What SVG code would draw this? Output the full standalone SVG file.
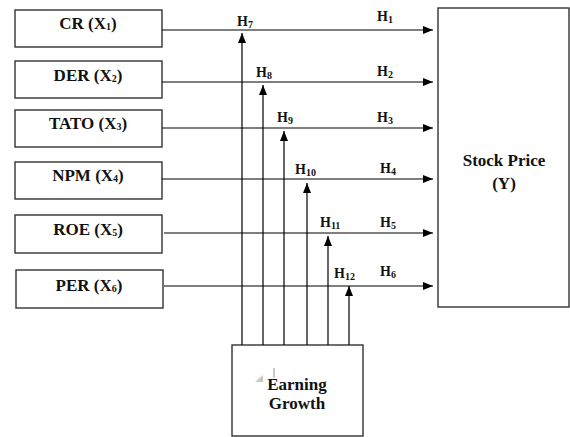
<svg xmlns="http://www.w3.org/2000/svg" width="570" height="437" viewBox="0 0 570 437">
<defs>
<style>
.box{fill:#fff;stroke:#333;stroke-width:1.4}
.ln{stroke:#000;stroke-width:1.2;fill:none}
.lbl{font-family:'Liberation Serif', 'DejaVu Serif', serif;font-weight:bold;font-size:17px;fill:#111;text-anchor:middle}
.h{font-family:'Liberation Serif', 'DejaVu Serif', serif;font-weight:bold;font-size:14px;fill:#111}
.sub{font-size:10px}
</style>
<marker id="ah" viewBox="0 0 10 8" refX="10" refY="4" markerWidth="10" markerHeight="8" markerUnits="userSpaceOnUse" orient="auto">
<path d="M0,0 L10,4 L0,8 Z" fill="#000"/>
</marker>
</defs>
<rect width="570" height="437" fill="#fff"/>

<g id="cr"><rect class="box" x="15" y="10" width="147" height="37"/><text class="lbl" x="88" y="29">CR (X<tspan class="sub" dy="1">1</tspan><tspan dy="-1">)</tspan></text></g>
<g id="der"><rect class="box" x="15" y="61" width="147" height="37"/><text class="lbl" x="88" y="81">DER (X<tspan class="sub" dy="1">2</tspan><tspan dy="-1">)</tspan></text></g>
<g id="tato"><rect class="box" x="15" y="110" width="147" height="37"/><text class="lbl" x="88" y="129">TATO (X<tspan class="sub" dy="1">3</tspan><tspan dy="-1">)</tspan></text></g>
<g id="npm"><rect class="box" x="15" y="162" width="147" height="37"/><text class="lbl" x="88" y="181">NPM (X<tspan class="sub" dy="1">4</tspan><tspan dy="-1">)</tspan></text></g>
<g id="roe"><rect class="box" x="15" y="215" width="147" height="38"/><text class="lbl" x="88" y="235">ROE (X<tspan class="sub" dy="1">5</tspan><tspan dy="-1">)</tspan></text></g>
<g id="per"><rect class="box" x="16" y="270" width="147" height="38"/><text class="lbl" x="89" y="291">PER (X<tspan class="sub" dy="1">6</tspan><tspan dy="-1">)</tspan></text></g>

<g id="stock"><rect class="box" x="438" y="8" width="131" height="299"/><text class="lbl" x="504" y="166">Stock Price</text><text class="lbl" x="504" y="189">(Y)</text></g>

<g id="earning"><rect class="box" x="232" y="345" width="131" height="91"/>
<path d="M263,375 L263,382 L255,382 Z" fill="#c8c8c8"/>
<line x1="274" y1="368" x2="274" y2="378" stroke="#777" stroke-width="0.8"/>
<text class="lbl" x="297" y="390">Earning</text><text class="lbl" x="297" y="409">Growth</text></g>

<g id="connectors">
<line class="ln" x1="162" y1="30" x2="433" y2="30" marker-end="url(#ah)"/>
<line class="ln" x1="162" y1="82" x2="433" y2="82" marker-end="url(#ah)"/>
<line class="ln" x1="162" y1="128" x2="433" y2="128" marker-end="url(#ah)"/>
<line class="ln" x1="162" y1="179" x2="433" y2="179" marker-end="url(#ah)"/>
<line class="ln" x1="164" y1="233" x2="433" y2="233" marker-end="url(#ah)"/>
<line class="ln" x1="164" y1="286" x2="433" y2="286" marker-end="url(#ah)"/>
<line class="ln" x1="242" y1="345" x2="242" y2="33" marker-end="url(#ah)"/>
<line class="ln" x1="263" y1="345" x2="263" y2="85" marker-end="url(#ah)"/>
<line class="ln" x1="284" y1="345" x2="284" y2="131" marker-end="url(#ah)"/>
<line class="ln" x1="307" y1="345" x2="307" y2="183" marker-end="url(#ah)"/>
<line class="ln" x1="328" y1="345" x2="328" y2="236" marker-end="url(#ah)"/>
<line class="ln" x1="349" y1="345" x2="349" y2="286" marker-end="url(#ah)"/>
</g>

<g id="labels">
<text class="h" x="377" y="21">H<tspan class="sub" dy="2">1</tspan></text>
<text class="h" x="377" y="76">H<tspan class="sub" dy="2">2</tspan></text>
<text class="h" x="377" y="122">H<tspan class="sub" dy="2">3</tspan></text>
<text class="h" x="380" y="173">H<tspan class="sub" dy="2">4</tspan></text>
<text class="h" x="380" y="227">H<tspan class="sub" dy="2">5</tspan></text>
<text class="h" x="380" y="276">H<tspan class="sub" dy="2">6</tspan></text>
<text class="h" x="237" y="26">H<tspan class="sub" dy="2">7</tspan></text>
<text class="h" x="256" y="77">H<tspan class="sub" dy="2">8</tspan></text>
<text class="h" x="277" y="122">H<tspan class="sub" dy="2">9</tspan></text>
<text class="h" x="295" y="174">H<tspan class="sub" dy="2">10</tspan></text>
<text class="h" x="320" y="227">H<tspan class="sub" dy="2">11</tspan></text>
<text class="h" x="334" y="278">H<tspan class="sub" dy="2">12</tspan></text>
</g>
</svg>
